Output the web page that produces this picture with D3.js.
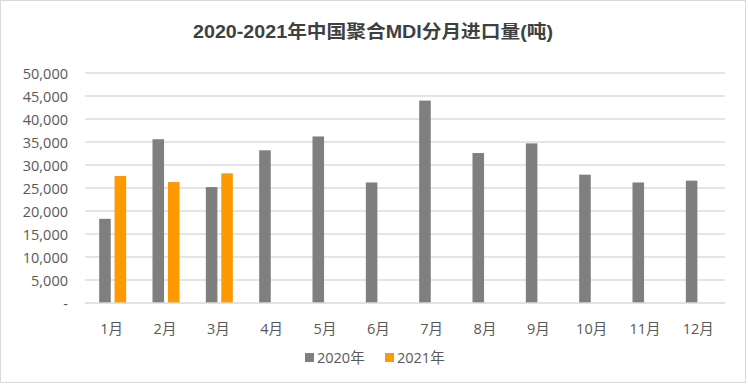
<!DOCTYPE html>
<html><head><meta charset="utf-8">
<script src="https://cdn.jsdelivr.net/npm/d3@7/dist/d3.min.js"></script>
<style>body{margin:0;background:#fff}svg{display:block}</style>
</head><body>
<svg id="c" width="748" height="384"></svg>
<script>
const months = ["1月","2月","3月","4月","5月","6月","7月","8月","9月","10月","11月","12月"];
const seriesNames = ["2020年","2021年"];
const values2020 = [18300,35600,25200,33200,36200,26200,44000,32600,34700,27900,26200,26600];
const values2021 = [27600,26300,28200,null,null,null,null,null,null,null,null,null];
const yTicks = [0,5000,10000,15000,20000,25000,30000,35000,40000,45000,50000];
const colors = ["#7f7f7f","#ff9900"];
const title = "2020-2021年中国聚合MDI分月进口量(吨)";

(function(){
const svg = d3.select("#c");
const font = "'Open Sans','Noto Sans CJK SC',sans-serif";
const tfont = "'Liberation Sans','Noto Sans CJK SC',sans-serif";
svg.append("rect").attr("x",0.5).attr("y",0.5).attr("width",745).attr("height",382)
  .attr("fill","#fff").attr("stroke","#d9d9d9");

const pL=85,pR=725,pT=73,pB=303;
const x = d3.scaleBand().domain(months).range([pL,pR]).padding(0);
const y = d3.scaleLinear().domain([0,50000]).range([pB,pT]);
const xs = d3.scaleBand().domain(seriesNames).range([-12.5,14.5]).paddingInner(0.25);

svg.append("g").selectAll("line").data(yTicks.filter(d=>d>0)).join("line")
  .attr("x1",pL).attr("x2",pR).attr("y1",d=>y(d)).attr("y2",d=>y(d))
  .attr("stroke","#dcdcdc").attr("stroke-width",1.3);

const yAxis = d3.axisLeft(y).tickValues(yTicks).tickSize(0).tickPadding(0)
  .tickFormat(d=>d===0?"-":d3.format(",")(d));
const gy = svg.append("g").attr("transform","translate(68,0)").call(yAxis);
gy.select(".domain").remove();
gy.selectAll("text").attr("font-family",font).attr("font-size",14.5).attr("fill","#595959").attr("dy","0.35em");

const data = months.map((m,i)=>({m, vals:[values2020[i],values2021[i]]}));
const groups = svg.append("g").selectAll("g").data(data).join("g")
  .attr("transform",d=>`translate(${x(d.m)+x.bandwidth()/2},0)`);
groups.selectAll("rect").data(d=>d.vals.map((v,j)=>({v,s:seriesNames[j],j})).filter(e=>e.v!=null)).join("rect")
  .attr("x",e=>xs(e.s)).attr("width",xs.bandwidth())
  .attr("y",e=>y(e.v)).attr("height",e=>pB-y(e.v))
  .attr("fill",e=>colors[e.j]);

svg.append("line").attr("x1",pL).attr("x2",pR).attr("y1",pB).attr("y2",pB)
  .attr("stroke","#d9d9d9").attr("stroke-width",1.5);

const xAxis = d3.axisBottom(x).tickSize(0).tickPadding(0);
const gx = svg.append("g").attr("transform",`translate(0,${pB})`).call(xAxis);
gx.select(".domain").remove();
gx.selectAll("text").attr("font-family",font).attr("font-size",14.5).attr("fill","#595959").attr("y",31).attr("dy",0);

svg.append("text").attr("x",373).attr("y",38).attr("text-anchor","middle")
  .attr("font-family",tfont).attr("font-weight","bold").attr("font-size",18).attr("fill","#404040")
  .attr("textLength",360).attr("lengthAdjust","spacingAndGlyphs").text(title);

const lx=[305,385];
const lg = svg.append("g").selectAll("g").data(seriesNames).join("g")
  .attr("transform",(d,i)=>`translate(${lx[i]},0)`);
lg.append("rect").attr("x",0).attr("y",353).attr("width",9).attr("height",9).attr("fill",(d,i)=>colors[i]);
lg.append("text").attr("x",12).attr("y",363).attr("font-family",font).attr("font-size",14.5)
  .attr("fill","#595959").text(d=>d);
})();
</script>
</body></html>
